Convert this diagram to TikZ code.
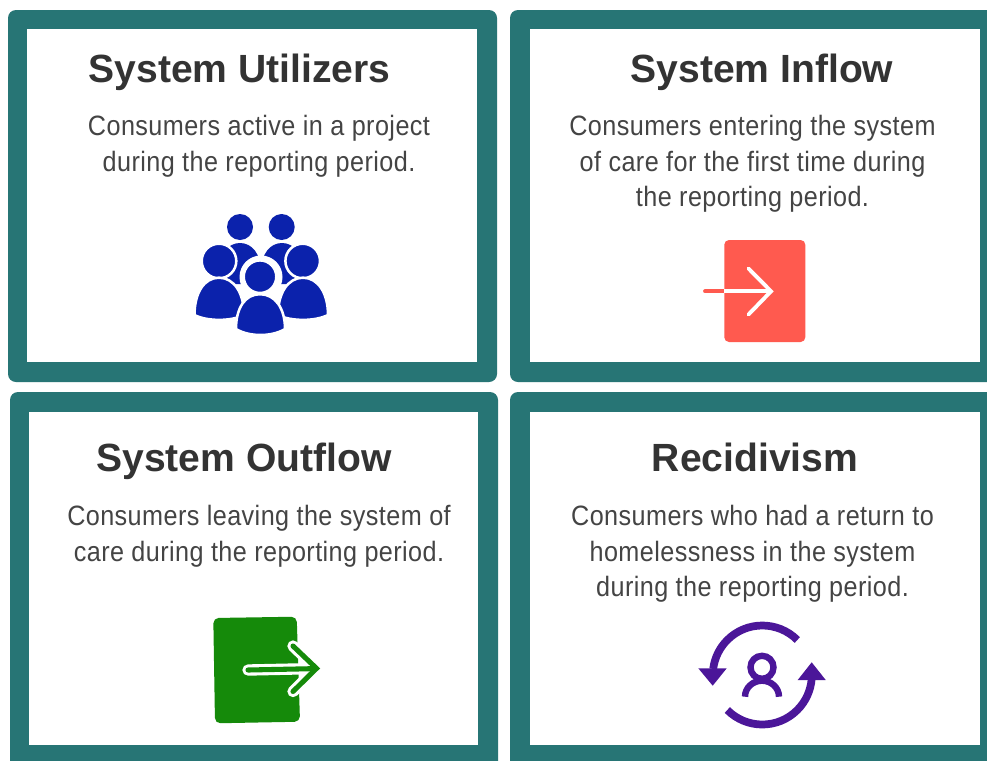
\documentclass[tikz,border=0pt]{standalone}
\usepackage{fontspec}
\setmainfont{Liberation Sans}
\newfontfamily\titlefont[FakeStretch=0.993]{Liberation Sans}
\newfontfamily\bodyfont[FakeStretch=0.90,LetterSpace=1.5]{Liberation Sans}
\definecolor{cardteal}{HTML}{277575}
\definecolor{titlegrey}{HTML}{333333}
\definecolor{bodygrey}{HTML}{444444}
\definecolor{peopleblue}{HTML}{0B22AC}
\definecolor{inflowred}{HTML}{FF5A4F}
\definecolor{outflowgreen}{HTML}{158A0A}
\definecolor{recidpurple}{HTML}{4B1699}
\tikzset{
  cardframe/.style={fill=cardteal,rounded corners=6pt},
  cardinner/.style={fill=white},
  cardtitle/.style={anchor=base,inner sep=0pt,text=titlegrey,font=\titlefont\bfseries\fontsize{29.5}{34}\selectfont},
  cardbody/.style={anchor=north,inner sep=0pt,align=center,text=bodygrey,font=\bodyfont\fontsize{21}{26.6}\selectfont},
  person/.style={fill=peopleblue,draw=white,line width=1.9pt},
  backperson/.style={fill=peopleblue},
  purplearc/.style={draw=recidpurple,line width=5.8pt},
}
\begin{document}
\begin{tikzpicture}[x=0.75pt,y=-0.75pt]
\useasboundingbox (0,0) rectangle (987,760);
\clip (0,0) rectangle (987,760);
\fill[white] (0,0) rectangle (987,760);
% cards
\fill[cardframe] (8,10) rectangle (497,382);
\fill[cardinner] (27,29) rectangle (477,362);
\fill[cardframe] (510,10) rectangle (1010,382);
\fill[cardinner] (530,29) rectangle (980,362);
\fill[cardframe] (10,392) rectangle (498,780);
\fill[cardinner] (29,412) rectangle (478,745);
\fill[cardframe] (510,392) rectangle (1010,780);
\fill[cardinner] (530,412) rectangle (980,745);
% titles
\node[cardtitle] (t1) at (239.5,82) {System Utilizers};
\node[cardtitle] (t2) at (762,82) {System Inflow};
\node[cardtitle] (t3) at (244,471) {System Outflow};
\node[cardtitle] (t4) at (755,471) {Recidivism};
% bodies
\node[cardbody] (b1) at (259,115) {Consumers active in a project\\during the reporting period.};
\node[cardbody] (b2) at (752.5,115) {Consumers entering the system\\of care for the first time during\\the reporting period.};
\node[cardbody] (b3) at (259,505) {Consumers leaving the system of\\care during the reporting period.};
\node[cardbody] (b4) at (752.5,505) {Consumers who had a return to\\homelessness in the system\\during the reporting period.};
% people icon
\fill[backperson] (240,227) circle[radius=13];
\fill[backperson] (281.7,227) circle[radius=13];
\fill[backperson] (219,272) .. controls (219,254) and (228,243) .. (240,243) .. controls (252,243) and (261,254) .. (261,272) -- (261,284) -- (219,284) -- cycle;
\fill[backperson] (261,272) .. controls (261,254) and (270,243) .. (282,243) .. controls (294,243) and (303,254) .. (303,272) -- (303,284) -- (261,284) -- cycle;
\fill[white] (261,277) circle[radius=21.5];
\filldraw[person] (219,261) circle[radius=17.3];
\filldraw[person] (302.7,261) circle[radius=17.3];
\filldraw[person] (194.5,315) .. controls (194.5,293) and (204,277.7) .. (219,277.7) .. controls (234,277.7) and (244,293) .. (244,315) .. controls (231,321.5) and (207,321.5) .. (194.5,315) -- cycle;
\filldraw[person] (328,315) .. controls (328,293) and (318,277.7) .. (303,277.7) .. controls (288,277.7) and (278,293) .. (278,315) .. controls (291,321.5) and (315,321.5) .. (328,315) -- cycle;
\filldraw[person] (260,276.7) circle[radius=16.3];
\filldraw[person] (236,329) .. controls (236,308) and (245,294.2) .. (260,294.2) .. controls (275,294.2) and (285,308) .. (285,329) .. controls (272,337) and (249,337) .. (236,329) -- cycle;
% inflow icon
\fill[inflowred,rounded corners=3.5pt] (724.3,240) rectangle (805.3,342);
\coordinate (intip) at (771,291.3);
\draw[inflowred,line width=2.9pt,line cap=round] (705,291.3) -- (726,291.3);
\draw[white,line width=2.9pt] (724.3,291.3) -- (intip);
\draw[white,line width=2.9pt,line cap=round,line join=miter] (748.5,268.5) -- (intip) -- (748.5,314.5);
% outflow icon
\fill[outflowgreen,rounded corners=4pt] (213.3,618) -- (296.7,616.7) -- (300,721.7) -- (215,723.3) -- cycle;
\draw[white,line width=8.5pt,line cap=round] (248,670) -- (314,668.6);
\draw[white,line width=8.5pt,line cap=round,line join=round] (293,646) -- (316.5,668.4) -- (293,691.5);
\draw[outflowgreen,line width=3.8pt,line cap=round] (248,670) -- (316,668.6);
\draw[outflowgreen,line width=3.8pt,line cap=round,line join=miter] (293,646) -- (316.5,668.4) -- (293,691.5);
% recidivism icon
\coordinate (rc) at (762.3,675);
\draw[purplearc] ([shift={(rc)}]-45:49.5) arc[start angle=-45,end angle=-173,radius=49.5];
\draw[purplearc] ([shift={(rc)}]135:49.5) arc[start angle=135,end angle=4,radius=49.5];
\fill[recidpurple] (698.3,668.3) -- (726.7,668.3) -- (712.7,685.7) -- cycle;
\fill[recidpurple] (797.7,680) -- (825.7,680) -- (811.7,662.3) -- cycle;
\draw[recidpurple,line width=4.8pt] (762,667.3) circle[radius=11.5];
\draw[recidpurple,line width=4.8pt] (745,696.7) arc[start angle=180,end angle=360,x radius=17,y radius=16];
\end{tikzpicture}
\end{document}
